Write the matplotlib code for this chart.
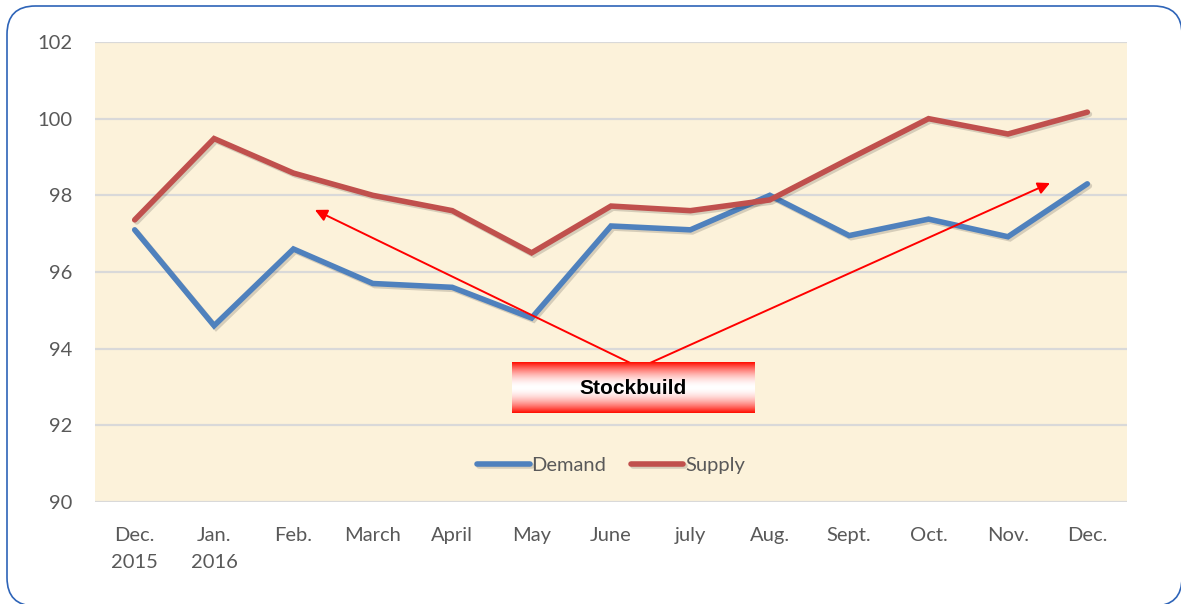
import numpy as np
import matplotlib
matplotlib.use("Agg")
import matplotlib.pyplot as plt
import matplotlib.patheffects as pe
from matplotlib.patches import FancyBboxPatch

months = ["Dec.\n2015", "Jan.\n2016", "Feb.", "March", "April", "May", "June",
          "july", "Aug.", "Sept.", "Oct.", "Nov.", "Dec."]
demand = [97.1, 94.6, 96.6, 95.7, 95.6, 94.8, 97.2, 97.1, 98.0, 96.95, 97.38, 96.92, 98.3]
supply = [97.36, 99.48, 98.58, 98.0, 97.6, 96.5, 97.72, 97.6, 97.88, 98.95, 100.0, 99.6, 100.17]
yticks = [90, 92, 94, 96, 98, 100, 102]

plt.rcParams['font.family'] = ['Lato', 'DejaVu Sans']
grey = '#595959'

fig = plt.figure(figsize=(11.81, 6.04), dpi=100)
ax = fig.add_axes([95 / 1181, 1 - 502 / 604, 1032 / 1181, 460 / 604])

# rounded blue frame, runs off the right and bottom edges like the original
frame = FancyBboxPatch((7 / 1181, -2 / 604), 1175 / 1181, 600 / 604,
                       boxstyle="round,pad=0,rounding_size=0.024",
                       transform=fig.transFigure, fill=False,
                       edgecolor='#2E64B8', linewidth=1.2, clip_on=False,
                       mutation_aspect=1181 / 604)
fig.patches.append(frame)

ax.set_facecolor('#FCF2DA')
x = np.arange(len(months))
ax.set_xlim(-0.5, len(months) - 0.5)
ax.set_ylim(90, 102)
ax.set_yticks(yticks)
ax.set_xticks(x)
ax.set_xticklabels(months, linespacing=1.75)
ax.tick_params(length=0, labelsize=14.5, colors=grey)
ax.tick_params(axis='x', pad=18)
ax.tick_params(axis='y', pad=16)
ax.grid(axis='y', color='#D9D9D9', linewidth=1.6)
ax.set_axisbelow(True)
for s in ax.spines.values():
    s.set_visible(False)

shadow = [pe.SimpleLineShadow(offset=(1.5, -1.5), alpha=0.15), pe.Normal()]
ax.plot(x, demand, color='#4F81BD', lw=4, label='Demand',
        solid_capstyle='round', solid_joinstyle='miter', path_effects=shadow)
ax.plot(x, supply, color='#C0504D', lw=4, label='Supply',
        solid_capstyle='round', solid_joinstyle='miter', path_effects=shadow)

# arrows from the label box
ax.annotate('', xy=(2.27, 97.62), xytext=(6.3, 93.57),
            arrowprops=dict(arrowstyle='-|>', color='red', lw=1.4,
                            mutation_scale=18, shrinkA=0, shrinkB=0))
ax.annotate('', xy=(11.53, 98.32), xytext=(6.43, 93.57),
            arrowprops=dict(arrowstyle='-|>', color='red', lw=1.4,
                            mutation_scale=18, shrinkA=0, shrinkB=0))

# label box with red-white-red gradient
t = np.linspace(-1, 1, 100)
grad = np.abs(t) ** 1.8
cols = np.ones((100, 1, 3))
cols[:, 0, 1] = 1 - 0.95 * grad
cols[:, 0, 2] = 1 - grad
bx0, bx1, by0, by1 = 4.75, 7.8, 92.32, 93.63
ax.imshow(cols, extent=(bx0, bx1, by0, by1), aspect='auto', zorder=4,
          interpolation='bilinear')
ax.text((bx0 + bx1) / 2, (by0 + by1) / 2 - 0.02, 'Stockbuild',
        family='Liberation Sans', weight='bold', fontsize=15,
        ha='center', va='center', zorder=5)
ax.set_xlim(-0.5, len(months) - 0.5)
ax.set_ylim(90, 102)

leg = ax.legend(loc='center', bbox_to_anchor=(0.5, 0.08), ncol=2, frameon=False,
                fontsize=14.5, handlelength=2.6, handletextpad=0.1,
                columnspacing=1.2, labelcolor=grey)

fig.savefig('out.png', dpi=100)
